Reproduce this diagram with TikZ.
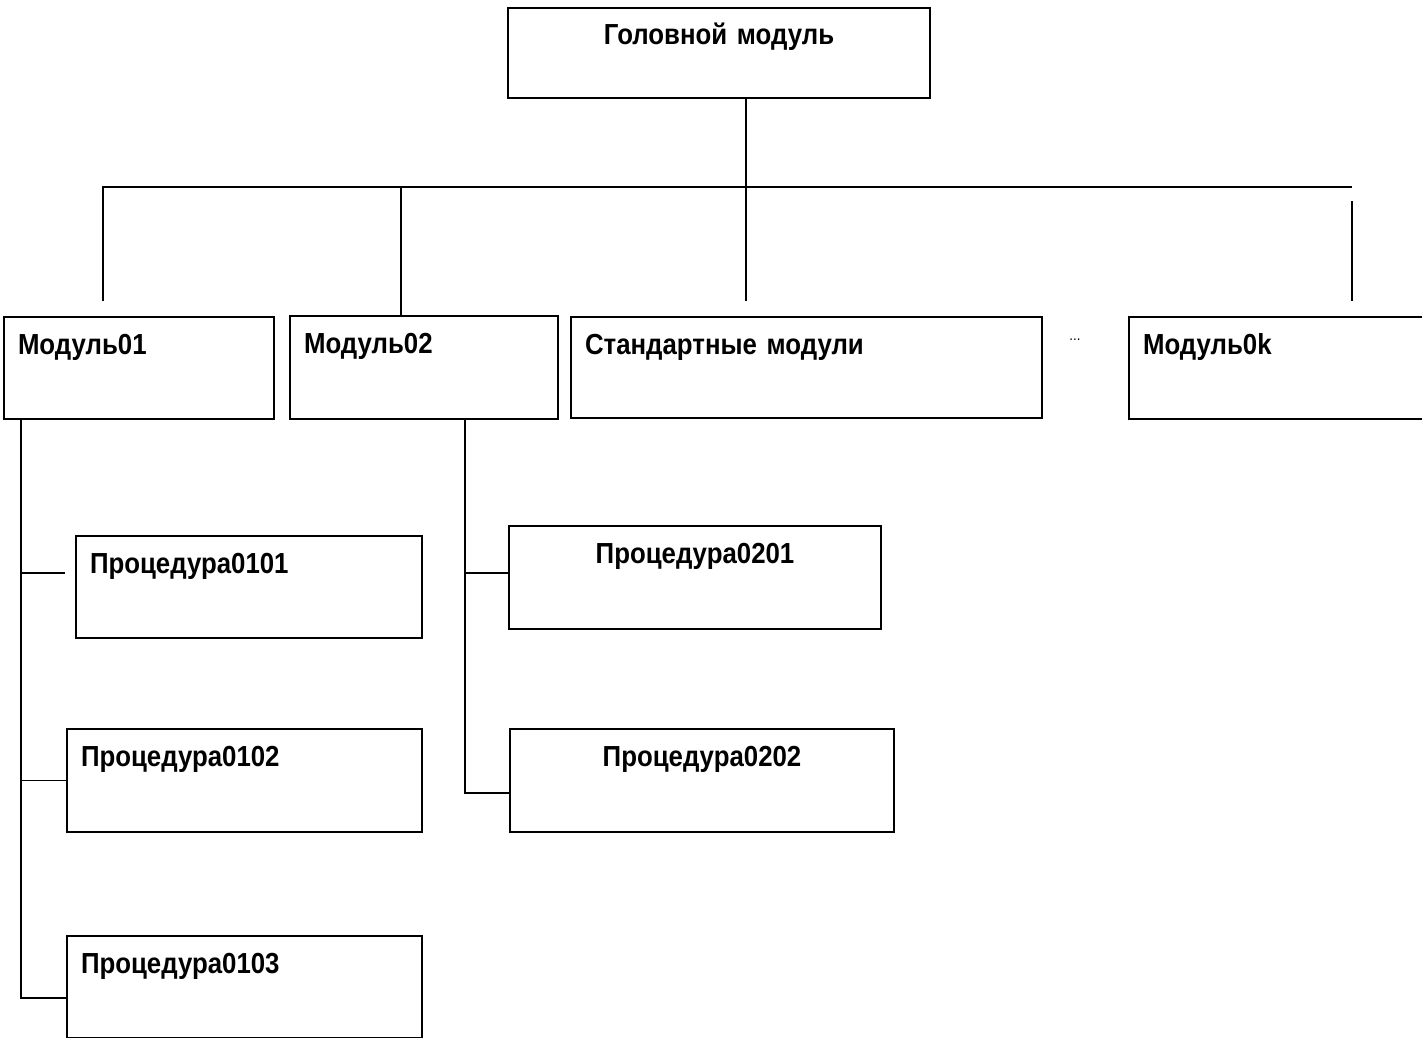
\documentclass[tikz,border=0pt]{standalone}
\usepackage{fontspec}
\newfontfamily\narrowsf[FakeStretch=0.89]{Liberation Sans}
\begin{document}
\begin{tikzpicture}[x=1pt, y=-1pt,
        blk/.style={draw, line width=2pt, anchor=north west, inner xsep=14pt, inner ysep=0pt,
            text height=37pt, align=left, font=\narrowsf\bfseries\fontsize{29}{34}\selectfont},
        link/.style={line width=1.8pt}]
    \useasboundingbox (0,0) rectangle (1422,1038);
    \node[blk, align=center, text width=394pt, text depth=53pt] (head) at (507,7) {Головной модуль};
    \node[blk, text width=242pt, text depth=65pt] (m1) at (3,316) {Модуль01};
    \node[blk, text width=240pt, text depth=66pt] (m2) at (289,315) {Модуль02};
    \node[blk, text width=443pt, text depth=64pt] (std) at (570,316) {Стандартные модули};
    \node[blk, text width=272pt, text depth=65pt] (mk) at (1128,316) {Модуль0k};
    \node[font=\narrowsf\fontsize{15}{17}\selectfont, inner sep=0pt] (dots) at (1075,340) {...};
    \node[blk, text width=318pt, text depth=65pt] (p11) at (75,535) {Процедура0101};
    \node[blk, text width=327pt, text depth=66pt] (p12) at (66,728) {Процедура0102};
    \node[blk, text width=327pt, text depth=65pt] (p13) at (66,935) {Процедура0103};
    \node[blk, align=center, text width=344pt, text depth=66pt] (p21) at (508,525) {Процедура0201};
    \node[blk, align=center, text width=356pt, text depth=66pt] (p22) at (509,728) {Процедура0202};
    \coordinate (busL) at (103,187);
    \coordinate (busR) at (1352,187);
    \coordinate (hub) at (746,187);
    \coordinate (j2) at (401,187);
    \coordinate (e1) at (103,301);
    \coordinate (e3) at (746,301);
    \coordinate (ek0) at (1352,201);
    \coordinate (ek) at (1352,301);
    \coordinate (tr1) at (21,998);
    \coordinate (s11) at (65,573);
    \coordinate (tr2) at (465,793);
    \draw[link] (hub |- head.south) -- (e3);
    \draw[link] (e1) -- (busL) -- (busR);
    \draw[link] (j2) -- (j2 |- m2.north);
    \draw[link] (ek0) -- (ek);
    \draw[link] (tr1 |- m1.south) -- (tr1) -- (tr1 -| p13.west);
    \draw[link] (tr1 |- s11) -- (s11);
    \draw[link] (tr1 |- p12.west) -- (p12.west);
    \draw[link] (tr2 |- m2.south) -- (tr2) -- (tr2 -| p22.west);
    \draw[link] (tr2 |- s11) -- (s11 -| p21.west);
\end{tikzpicture}
\end{document}
